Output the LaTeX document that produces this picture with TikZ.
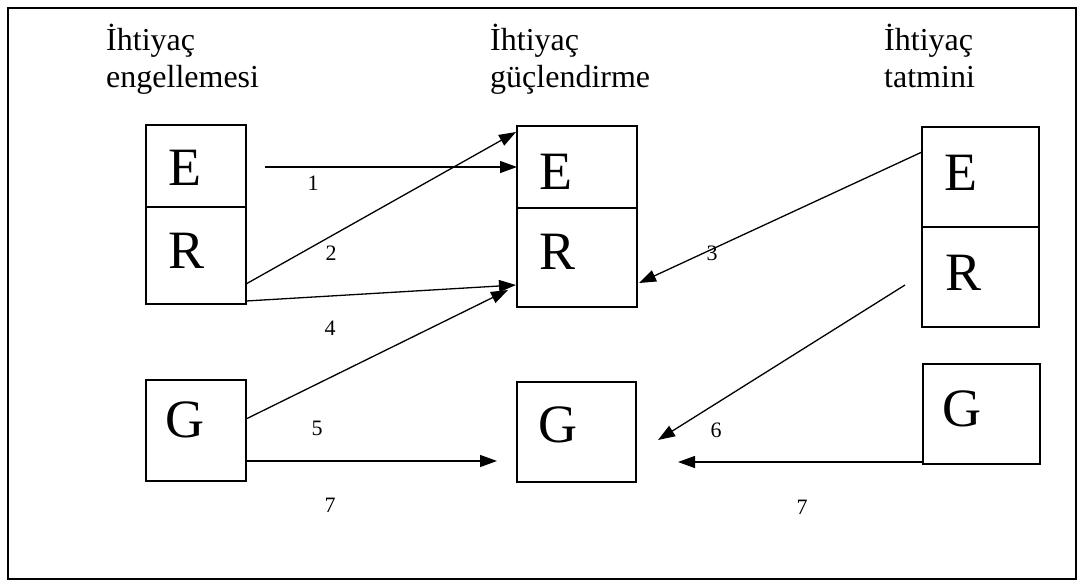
\documentclass[tikz,border=0pt]{standalone}
\usepackage{fontspec}
\setmainfont{Liberation Serif}
\usetikzlibrary{arrows.meta}
\begin{document}
\begin{tikzpicture}[x=1pt,y=-1pt,
  part/.style={draw, line width=1.5pt, inner sep=0pt, outer sep=0pt},
  letter/.style={font=\fontsize{54}{54}\selectfont, inner sep=0pt, anchor=base},
  title/.style={font=\fontsize{32}{37}\selectfont, align=left, anchor=north west, inner sep=0pt},
  num/.style={font=\fontsize{22}{22}\selectfont, inner sep=0pt},
  conn/.style={line width=1.3pt, -{Triangle[length=17pt,width=12pt]}}]
\useasboundingbox (0,0) rectangle (1078,581);
\node[draw, line width=1.8pt, minimum width=1068pt, minimum height=571pt, inner sep=0pt] (frame) at (542,293.5) {};
% titles
\node[title] (t1) at (106,24) {İhtiyaç\\engellemesi};
\node[title] (t2) at (490,24) {İhtiyaç\\güçlendirme};
\node[title] (t3) at (884,24) {İhtiyaç\\tatmini};
% boxes
\node[part, minimum width=100pt, minimum height=82pt] (lE) at (196,166) {};
\node[part, minimum width=100pt, minimum height=97pt] (lR) at (196,255.5) {};
\node[part, minimum width=100pt, minimum height=101pt] (lG) at (196,430.5) {};
\node[part, minimum width=120pt, minimum height=82pt] (mE) at (577,167) {};
\node[part, minimum width=120pt, minimum height=99pt] (mR) at (577,257.5) {};
\node[part, minimum width=119pt, minimum height=100pt] (mG) at (576.5,432) {};
\node[part, minimum width=117pt, minimum height=100pt] (rE) at (980.5,177) {};
\node[part, minimum width=117pt, minimum height=100pt] (rR) at (980.5,277) {};
\node[part, minimum width=117pt, minimum height=100pt] (rG) at (981.5,414) {};
% letters
\node[letter] (lEl) at (185,185) {E};
\node[letter] (lRl) at (187,268) {R};
\node[letter] (lGl) at (185,437) {G};
\node[letter] (mEl) at (556,189) {E};
\node[letter] (mRl) at (558,269) {R};
\node[letter] (mGl) at (558,442) {G};
\node[letter] (rEl) at (961,190) {E};
\node[letter] (rRl) at (963,290) {R};
\node[letter] (rGl) at (962,426) {G};
% connector endpoints
\coordinate (s1) at (265,167);
\coordinate (s2) at (246,284);
\coordinate (e2) at (516,132);
\coordinate (s4) at (246,301);
\coordinate (e4) at (516,285);
\coordinate (s5) at (246,419);
\coordinate (e5) at (508,290);
\coordinate (s7) at (246,461);
\coordinate (e7) at (497,461);
\coordinate (s3) at (922,152);
\coordinate (e3) at (639,283);
\coordinate (s6) at (905,285);
\coordinate (e6) at (658,440);
\coordinate (s7b) at (923,462);
\coordinate (e7b) at (678,462);
% connectors
\draw[conn] (s1) -- (mE.west);
\draw[conn] (s2) -- (e2);
\draw[conn] (s4) -- (e4);
\draw[conn] (s5) -- (e5);
\draw[conn] (s7) -- (e7);
\draw[conn] (s3) -- (e3);
\draw[conn] (s6) -- (e6);
\draw[conn] (s7b) -- (e7b);
% labels
\node[num] (n1) at (313,183) {1};
\node[num] (n2) at (331,253) {2};
\node[num] (n3) at (712,253) {3};
\node[num] (n4) at (330,328) {4};
\node[num] (n5) at (317,428) {5};
\node[num] (n6) at (716,430) {6};
\node[num] (n7) at (330,505) {7};
\node[num] (n7b) at (802,507) {7};
\end{tikzpicture}
\end{document}
